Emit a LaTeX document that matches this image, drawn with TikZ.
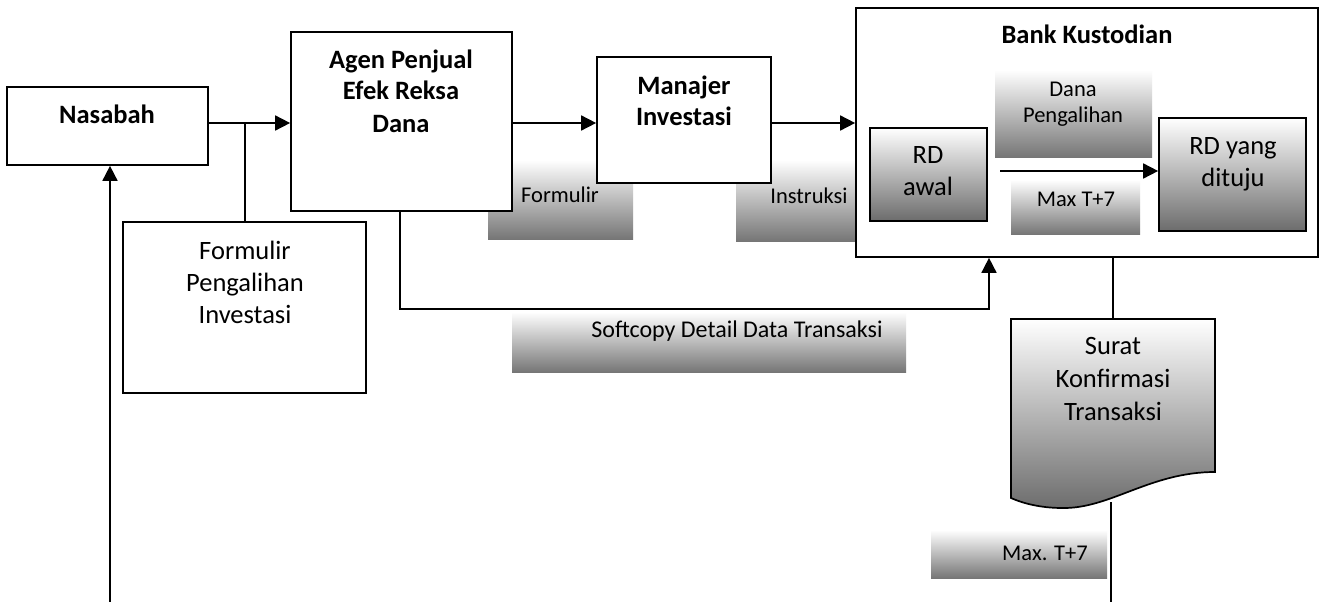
\documentclass[tikz,border=0pt]{standalone}
\usepackage{fontspec}
\setmainfont{Carlito}
\usetikzlibrary{arrows.meta}
\definecolor{gbot}{HTML}{767676}
\definecolor{dbot}{HTML}{6C6C6C}
\newcommand\mlines[1]{\begin{tabular}[t]{@{}c@{}}#1\end{tabular}}
\begin{document}
\begin{tikzpicture}[x=1pt,y=-1pt,
  box/.style={draw, line width=1.7pt, fill=white, inner sep=0pt, rectangle},
  gbox/.style={draw, line width=1.7pt, top color=white, bottom color=dbot, inner sep=0pt, rectangle},
  glabel/.style={draw=none, top color=white, bottom color=gbot, inner sep=0pt, rectangle},
  txt/.style={anchor=base, inner sep=0pt, font=\fontsize{26.5}{32}\selectfont},
  btxt/.style={anchor=base, inner sep=0pt, font=\fontsize{26.5}{32}\selectfont\bfseries},
  stxt/.style={anchor=base, inner sep=0pt, font=\fontsize{22.5}{26}\selectfont},
  conn/.style={line width=1.7pt},
  arr/.style={conn, -{Triangle[length=15pt,width=15pt]}}]

\fill[white] (0,0) rectangle (1325,602);
\useasboundingbox (0,0) rectangle (1325,602);

% gradient labels behind boxes
\node[glabel, minimum width=145pt, minimum height=79pt] (lform) at (560.5,199.5) {};
\node[stxt] (tform) at (560,202) {Formulir};
\node[glabel, minimum width=146pt, minimum height=81pt] (linst) at (809,200.5) {};
\node[stxt] (tinst) at (809,203) {Instruksi};
\node[glabel, minimum width=394pt, minimum height=60pt] (lsoft) at (709,342) {};
\node[stxt, font=\fontsize{24}{28}\selectfont] (tsoft) at (737,337) {Softcopy Detail Data Transaksi};
\node[glabel, minimum width=176pt, minimum height=48pt] (lmax) at (1019,554) {};
\node[stxt] (tmax) at (1045,560) {Max. T+7};

% coordinates
\coordinate (j1) at (245,123);
\coordinate (c1) at (400,309);
\coordinate (c2) at (989,309);
\coordinate (lb) at (110,602);
\coordinate (dtop) at (1113,319);
\coordinate (dbotc) at (1111,502);
\coordinate (dend) at (1111,602);
\coordinate (rs) at (1000,171);

% boxes
\node[box, minimum width=201pt, minimum height=78pt] (nas) at (107.5,126) {};
\node[btxt] (tnas) at (107,123) {Nasabah};
\node[box, minimum width=221pt, minimum height=179pt] (agen) at (401.5,121.5) {};
\node[btxt] (tagen) at (401,68) {\mlines{Agen Penjual\\Efek Reksa\\Dana}};
\node[box, minimum width=243pt, minimum height=171pt] (form) at (244.5,307.5) {};
\node[txt] (tformbox) at (245,259) {\mlines{Formulir\\Pengalihan\\Investasi}};
\node[box, minimum width=174pt, minimum height=126pt] (man) at (684,120) {};
\node[btxt] (tman) at (684,94) {\mlines{Manajer\\Investasi}};
\node[box, minimum width=462pt, minimum height=249pt] (bank) at (1087,132.5) {};
\node[btxt] (tbank) at (1087,44) {Bank Kustodian};

% inside bank
\node[glabel, minimum width=157pt, minimum height=87pt] (ldana) at (1073.5,113.5) {};
\node[stxt] (tdana) at (1073,96) {\mlines{Dana\\Pengalihan}};
\node[glabel, minimum width=129pt, minimum height=54pt] (lmaxin) at (1075.5,207) {};
\node[stxt] (tmaxin) at (1076,206) {Max T+7};
\node[gbox, minimum width=117pt, minimum height=93pt] (rda) at (928.5,174.5) {};
\node[txt] (trda) at (928,163) {\mlines{RD\\awal}};
\node[gbox, minimum width=147pt, minimum height=113pt] (rdt) at (1232.5,174.5) {};
\node[txt] (trdt) at (1233,154) {\mlines{RD yang\\dituju}};

% document shape
\shadedraw[line width=1.7pt, top color=white, bottom color=dbot]
  (1011,319) -- (1215,319) -- (1215,472)
  .. controls (1150,472) and (1110,509) .. (1062,508)
  .. controls (1040,508) and (1022,503) .. (1011,498) -- cycle;
\node[txt, font=\fontsize{26.5}{33}\selectfont] (tdoc) at (1113,354) {\mlines{Surat\\Konfirmasi\\Transaksi}};

% connectors
\draw[arr] (nas.east |- j1) -- (agen.west |- j1);
\draw[conn] (j1) -- (form.north -| j1);
\draw[arr] (agen.east |- j1) -- (man.west |- j1);
\draw[arr] (man.east |- j1) -- (bank.west |- j1);
\draw[arr] (agen.south -| c1) -- (c1) -- (c2) -- (bank.south -| c2);
\draw[arr] (rs) -- (rdt.west |- rs);
\draw[conn] (bank.south -| dtop) -- (dtop);
\draw[conn] (dbotc) -- (dend);
\draw[arr] (lb) -- (nas.south -| lb);
\end{tikzpicture}
\end{document}
